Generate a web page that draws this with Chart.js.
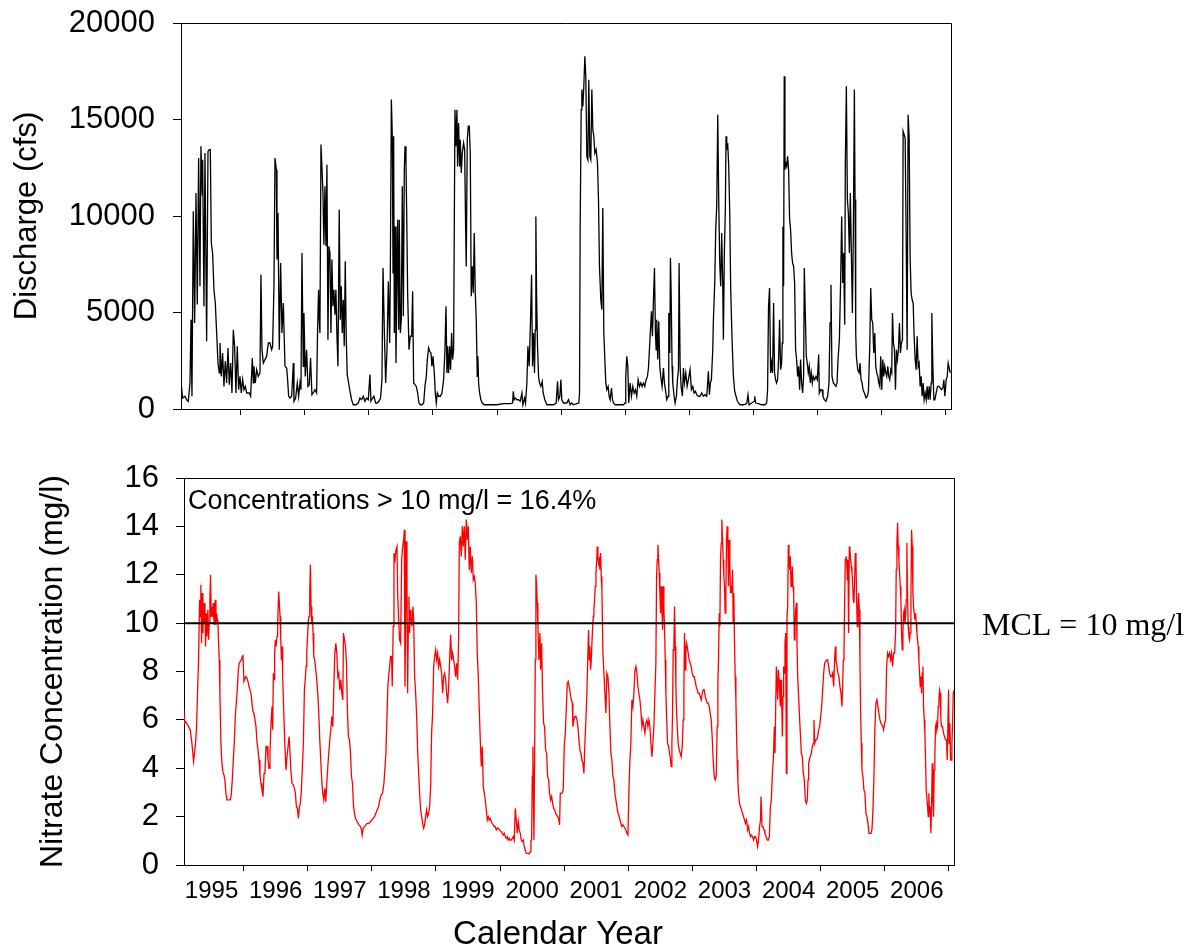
<!DOCTYPE html>
<html>
<head>
<meta charset="utf-8">
<title>Discharge and Nitrate Concentration</title>
<script src="https://cdn.jsdelivr.net/npm/chart.js@4.4.1/dist/chart.umd.min.js"></script>
<style>
  html, body { margin: 0; padding: 0; background: #fff; }
  #wrap { position: relative; width: 1194px; height: 951px; }
  #qChart { position: absolute; left: 0; top: 0; }
  #nChart { position: absolute; left: 0; top: 440px; }
</style>
</head>
<body>
<div id="wrap">
  <canvas id="qChart" width="1194" height="440"></canvas>
  <canvas id="nChart" width="1194" height="511"></canvas>
</div>
<script>
// DATA
const X_MIN = 1995.07;
const X_MAX = 2007.08;
const yearLabels = ['1995', '1996', '1997', '1998', '1999', '2000', '2001', '2002', '2003', '2004', '2005', '2006'];
const dischargeTicks = [0, 5000, 10000, 15000, 20000];
const nitrateTicks = [0, 2, 4, 6, 8, 10, 12, 14, 16];
const MCL = 10;

// discharge, [decimal year, cfs]
const discharge = [
  [1995.070,1350],[1995.096,570],[1995.132,660],[1995.158,480],[1995.184,400],[1995.210,1350],[1995.226,4630],[1995.241,660],[1995.262,10240],[1995.283,4460],[1995.304,11190],[1995.324,5410],[1995.345,13000],[1995.366,6360],[1995.381,13610],[1995.402,11100],[1995.408,12920],[1995.428,5320],[1995.444,13260],[1995.470,3510],[1995.491,13350],[1995.511,13440],[1995.527,13440],[1995.543,8600],[1995.563,8080],[1995.584,6180],[1995.605,5490],[1995.626,3940],[1995.647,2380],[1995.667,1870],[1995.678,3420],[1995.699,1690],[1995.719,2900],[1995.740,1170],[1995.761,2470],[1995.782,1350],[1995.803,3160],[1995.823,1260],[1995.844,2380],[1995.865,830],[1995.886,4110],[1995.906,3250],[1995.927,830],[1995.948,3250],[1995.969,1000],[1995.990,1690],
  [1996.010,830],[1996.031,1520],[1996.052,1000],[1996.073,1170],[1996.094,830],[1996.135,830],[1996.156,660],[1996.182,2640],[1996.198,1350],[1996.208,2210],[1996.229,1350],[1996.250,2040],[1996.276,1690],[1996.302,1870],[1996.317,6960],[1996.333,3070],[1996.354,2380],[1996.380,2560],[1996.406,2730],[1996.432,3420],[1996.458,3420],[1996.484,3070],[1996.499,3250],[1996.520,6360],[1996.536,13000],[1996.557,12400],[1996.567,7740],[1996.583,10160],[1996.603,3070],[1996.624,7560],[1996.645,3940],[1996.666,5490],[1996.692,2210],[1996.718,2120],[1996.733,1520],[1996.749,660],[1996.770,570],[1996.796,660],[1996.822,2380],[1996.832,400],[1996.858,570],[1996.884,1350],[1996.905,660],[1996.926,1350],[1996.941,1000],[1996.957,8080],[1996.977,2210],[1996.988,4970],
  [1997.008,1690],[1997.029,3070],[1997.050,1170],[1997.071,1260],[1997.091,2640],[1997.112,740],[1997.133,830],[1997.159,1000],[1997.185,830],[1997.201,4200],[1997.216,6180],[1997.227,4630],[1997.237,3940],[1997.253,13700],[1997.268,12570],[1997.284,11190],[1997.299,8510],[1997.315,11540],[1997.331,8430],[1997.346,12660],[1997.362,3590],[1997.377,8430],[1997.393,8080],[1997.409,3940],[1997.424,7740],[1997.440,5320],[1997.455,6180],[1997.471,4890],[1997.486,6180],[1997.502,3850],[1997.518,2210],[1997.538,10330],[1997.554,4630],[1997.570,6360],[1997.585,3940],[1997.601,5660],[1997.616,3250],[1997.632,7650],[1997.648,3590],[1997.663,1780],[1997.684,1350],[1997.705,920],[1997.731,480],[1997.757,220],[1997.798,220],[1997.835,310],[1997.861,570],[1997.887,480],[1997.913,660],[1997.939,400],[1997.965,570],[1997.991,480],
  [1998.017,1780],[1998.032,400],[1998.058,570],[1998.079,660],[1998.105,310],[1998.131,310],[1998.157,400],[1998.183,570],[1998.204,1520],[1998.221,7300],[1998.242,3940],[1998.262,1350],[1998.283,3070],[1998.304,6610],[1998.325,3420],[1998.335,7050],[1998.351,16030],[1998.366,14130],[1998.377,7050],[1998.387,14130],[1998.397,3940],[1998.413,9460],[1998.423,2380],[1998.434,5660],[1998.449,9810],[1998.465,4110],[1998.475,9810],[1998.491,3940],[1998.506,4630],[1998.522,11540],[1998.538,4800],[1998.553,12400],[1998.564,13610],[1998.579,12750],[1998.590,10160],[1998.605,6010],[1998.626,3070],[1998.647,3770],[1998.668,3770],[1998.683,6100],[1998.699,1350],[1998.719,1260],[1998.740,1170],[1998.761,830],[1998.782,310],[1998.803,220],[1998.829,220],[1998.855,310],[1998.875,1170],[1998.896,1690],[1998.912,2560],[1998.932,3160],[1998.948,2990],[1998.969,2900],[1998.984,2210],
  [1999.000,2730],[1999.021,1870],[1999.036,830],[1999.052,310],[1999.068,830],[1999.088,660],[1999.114,660],[1999.140,830],[1999.166,1520],[1999.187,3070],[1999.203,5320],[1999.218,1870],[1999.229,3250],[1999.244,1870],[1999.260,3250],[1999.275,2040],[1999.291,3940],[1999.306,2560],[1999.322,3070],[1999.343,15510],[1999.358,13610],[1999.374,15510],[1999.384,12570],[1999.400,14820],[1999.416,12570],[1999.426,13950],[1999.442,12230],[1999.457,13260],[1999.478,13780],[1999.494,13440],[1999.509,9460],[1999.519,7390],[1999.535,13950],[1999.551,14650],[1999.566,14650],[1999.582,13260],[1999.597,5840],[1999.613,7390],[1999.629,6010],[1999.644,9120],[1999.660,6010],[1999.675,4630],[1999.691,1690],[1999.701,2730],[1999.712,1350],[1999.727,830],[1999.748,480],[1999.769,310],[1999.800,220],[1999.894,220],[1999.997,220],
  [2000.101,280],[2000.205,280],[2000.242,310],[2000.252,920],[2000.268,480],[2000.283,570],[2000.309,480],[2000.335,480],[2000.361,400],[2000.387,830],[2000.403,220],[2000.429,570],[2000.444,310],[2000.465,1350],[2000.481,3250],[2000.501,2210],[2000.522,4630],[2000.538,6960],[2000.553,2210],[2000.569,3940],[2000.584,1870],[2000.595,4110],[2000.605,9980],[2000.616,6010],[2000.631,3250],[2000.647,1690],[2000.662,1350],[2000.683,1170],[2000.704,1430],[2000.719,830],[2000.745,480],[2000.777,220],[2000.829,220],[2000.881,220],[2000.922,310],[2000.943,1430],[2000.958,480],[2000.979,660],[2000.995,1520],
  [2001.010,480],[2001.036,310],[2001.062,310],[2001.088,310],[2001.114,480],[2001.140,220],[2001.166,310],[2001.192,220],[2001.244,280],[2001.275,310],[2001.286,830],[2001.296,9460],[2001.312,15510],[2001.322,16550],[2001.338,15680],[2001.353,16720],[2001.369,18270],[2001.384,17240],[2001.400,13090],[2001.416,12920],[2001.431,17060],[2001.447,13090],[2001.462,12920],[2001.478,16550],[2001.494,14470],[2001.509,14130],[2001.525,13260],[2001.545,13440],[2001.566,12750],[2001.582,10850],[2001.597,7390],[2001.618,5660],[2001.634,5150],[2001.649,10410],[2001.665,3940],[2001.681,2560],[2001.696,1350],[2001.712,1000],[2001.732,1170],[2001.748,660],[2001.764,480],[2001.784,1090],[2001.800,480],[2001.816,310],[2001.842,220],[2001.894,220],[2001.971,220],[2001.997,310],
  [2002.007,1690],[2002.023,2730],[2002.039,2210],[2002.054,310],[2002.075,1350],[2002.096,660],[2002.117,1170],[2002.138,830],[2002.158,1000],[2002.179,660],[2002.200,1520],[2002.221,1170],[2002.242,1350],[2002.262,1170],[2002.283,1350],[2002.304,1170],[2002.325,1520],[2002.345,1690],[2002.361,2120],[2002.387,3770],[2002.408,5060],[2002.423,3770],[2002.439,5660],[2002.455,7300],[2002.470,3940],[2002.481,3070],[2002.491,4630],[2002.506,2560],[2002.522,4540],[2002.538,2210],[2002.553,1690],[2002.574,1170],[2002.595,2120],[2002.610,1350],[2002.626,1000],[2002.647,480],[2002.668,660],[2002.678,4970],[2002.694,2900],[2002.704,7820],[2002.714,6180],[2002.730,2210],[2002.740,1350],[2002.761,660],[2002.777,310],[2002.797,660],[2002.813,1520],[2002.829,2040],[2002.839,7560],[2002.855,2210],[2002.870,1170],[2002.891,660],[2002.906,2120],[2002.922,1350],[2002.943,1870],[2002.964,1170],[2002.984,1520],
  [2003.010,2040],[2003.031,1000],[2003.052,1170],[2003.073,830],[2003.094,920],[2003.114,740],[2003.140,660],[2003.166,660],[2003.192,830],[2003.218,660],[2003.244,740],[2003.270,660],[2003.296,1950],[2003.312,740],[2003.327,1350],[2003.343,1520],[2003.364,3070],[2003.374,4630],[2003.395,6530],[2003.410,9290],[2003.426,10500],[2003.442,15250],[2003.457,10850],[2003.473,7560],[2003.488,6360],[2003.504,9120],[2003.519,6530],[2003.530,3590],[2003.545,8080],[2003.561,10500],[2003.571,14130],[2003.582,13440],[2003.597,13780],[2003.613,12570],[2003.629,10160],[2003.644,6180],[2003.665,3590],[2003.686,1690],[2003.706,920],[2003.727,660],[2003.748,400],[2003.790,220],[2003.842,220],[2003.894,280],[2003.914,740],[2003.930,220],[2003.971,310],
  [2004.008,400],[2004.018,660],[2004.034,310],[2004.075,280],[2004.127,220],[2004.179,220],[2004.205,310],[2004.219,1000],[2004.234,5320],[2004.250,6270],[2004.266,1870],[2004.281,2380],[2004.297,1870],[2004.313,5490],[2004.328,1870],[2004.344,1520],[2004.359,1350],[2004.375,1520],[2004.391,2560],[2004.406,4630],[2004.422,2040],[2004.438,2380],[2004.448,3420],[2004.458,9460],[2004.469,6360],[2004.479,17240],[2004.490,12400],[2004.500,12750],[2004.516,12570],[2004.531,13090],[2004.547,12400],[2004.563,9810],[2004.578,9290],[2004.594,8080],[2004.609,7560],[2004.625,7390],[2004.641,6530],[2004.656,3070],[2004.672,2560],[2004.688,1690],[2004.703,2210],[2004.719,1000],[2004.734,2560],[2004.750,1350],[2004.766,830],[2004.781,1690],[2004.792,7300],[2004.807,4970],[2004.823,2730],[2004.839,2380],[2004.854,1870],[2004.870,2210],[2004.885,1350],[2004.901,1870],[2004.917,1350],[2004.932,1690],[2004.953,1520],[2004.974,1690],[2004.995,1520],
  [2005.016,2820],[2005.026,830],[2005.047,1000],[2005.068,1000],[2005.083,660],[2005.104,480],[2005.130,400],[2005.156,660],[2005.177,1350],[2005.193,4460],[2005.208,6440],[2005.224,1690],[2005.245,1350],[2005.266,1260],[2005.286,1170],[2005.302,1350],[2005.318,2560],[2005.339,3590],[2005.359,6700],[2005.375,9980],[2005.391,6530],[2005.406,8080],[2005.422,4370],[2005.432,12750],[2005.448,16720],[2005.464,10850],[2005.479,10160],[2005.495,8080],[2005.510,11190],[2005.526,8080],[2005.542,4970],[2005.557,9120],[2005.573,16550],[2005.583,10850],[2005.594,3940],[2005.604,2730],[2005.625,2040],[2005.646,1870],[2005.661,2380],[2005.677,1520],[2005.693,1350],[2005.708,1000],[2005.729,830],[2005.755,570],[2005.776,660],[2005.792,920],[2005.813,3250],[2005.828,6270],[2005.844,4630],[2005.859,4460],[2005.875,2900],[2005.891,3940],[2005.906,2210],[2005.922,1870],[2005.938,1690],[2005.953,1350],[2005.969,1170],[2005.984,2730],
  [2006.000,1000],[2006.016,2560],[2006.031,1690],[2006.047,2210],[2006.063,1870],[2006.078,1690],[2006.094,2210],[2006.109,1690],[2006.125,1520],[2006.141,2040],[2006.156,1870],[2006.167,4970],[2006.182,3420],[2006.198,3070],[2006.214,1000],[2006.229,3070],[2006.245,2560],[2006.260,3070],[2006.276,4460],[2006.292,2900],[2006.307,3420],[2006.323,3590],[2006.333,14390],[2006.349,14210],[2006.365,14040],[2006.380,9120],[2006.396,3070],[2006.411,15250],[2006.427,14130],[2006.443,7740],[2006.458,6010],[2006.474,5660],[2006.490,5490],[2006.505,3770],[2006.521,2560],[2006.536,2040],[2006.552,3770],[2006.568,2210],[2006.583,2380],[2006.599,1170],[2006.615,1690],[2006.630,660],[2006.646,1350],[2006.661,480],[2006.677,830],[2006.693,480],[2006.708,1170],[2006.724,480],[2006.740,1170],[2006.755,480],[2006.771,1350],[2006.781,4970],[2006.797,2210],[2006.813,480],[2006.828,480],[2006.849,830],[2006.870,1170],[2006.891,1170],[2006.911,1090],[2006.932,1000],[2006.953,1090],[2006.969,1520],[2006.984,660],
  [2007.005,1520],[2007.021,1690],[2007.036,2380],[2007.068,1870]
];

// nitrate, [decimal year, mg/l]
const nitrate = [
  [1995.068,6.41],[1995.078,5.86],[1995.094,5.93],[1995.115,5.86],[1995.141,5.72],[1995.167,5.59],[1995.188,5.17],[1995.203,4.76],[1995.219,4.28],[1995.234,4.62],[1995.250,5.03],[1995.266,5.72],[1995.281,7.10],[1995.297,8.48],[1995.313,10.97],[1995.323,10.28],[1995.333,11.59],[1995.344,9.17],[1995.354,11.24],[1995.365,9.59],[1995.375,10.83],[1995.385,10.00],[1995.396,10.83],[1995.406,9.03],[1995.417,10.41],[1995.427,9.45],[1995.443,10.55],[1995.453,9.31],[1995.464,10.00],[1995.474,10.97],[1995.484,12.00],[1995.495,10.28],[1995.505,10.69],[1995.516,10.28],[1995.526,10.83],[1995.536,10.14],[1995.547,9.93],[1995.557,10.97],[1995.568,9.93],[1995.578,10.41],[1995.589,10.14],[1995.599,10.00],[1995.609,9.17],[1995.620,8.48],[1995.630,7.10],[1995.646,5.03],[1995.661,4.21],[1995.677,3.86],[1995.693,3.72],[1995.708,3.52],[1995.724,2.97],[1995.740,2.69],[1995.766,2.69],[1995.792,2.69],[1995.807,2.90],[1995.823,3.52],[1995.839,4.34],[1995.854,5.03],[1995.870,6.14],[1995.885,6.69],[1995.901,7.24],[1995.917,8.07],[1995.932,8.34],[1995.948,8.41],[1995.964,8.48],[1995.979,8.62],[1995.990,8.69],
  [1996.005,7.59],[1996.021,7.72],[1996.036,7.79],[1996.052,7.72],[1996.068,7.59],[1996.083,7.38],[1996.099,7.24],[1996.115,7.10],[1996.130,6.69],[1996.146,6.34],[1996.161,6.28],[1996.177,6.00],[1996.193,5.72],[1996.208,5.10],[1996.224,4.76],[1996.240,4.34],[1996.255,3.72],[1996.271,3.38],[1996.286,3.10],[1996.302,2.83],[1996.318,3.79],[1996.333,3.86],[1996.349,4.90],[1996.365,4.90],[1996.380,4.34],[1996.396,4.00],[1996.411,4.62],[1996.427,5.86],[1996.443,6.55],[1996.453,5.59],[1996.464,7.93],[1996.474,7.66],[1996.484,8.76],[1996.495,9.31],[1996.505,9.03],[1996.521,9.45],[1996.531,10.00],[1996.547,11.31],[1996.557,10.83],[1996.568,10.28],[1996.578,9.45],[1996.589,8.48],[1996.599,9.03],[1996.609,7.79],[1996.620,6.83],[1996.630,6.00],[1996.646,4.76],[1996.661,3.93],[1996.677,4.48],[1996.693,4.90],[1996.708,5.31],[1996.724,4.62],[1996.740,3.79],[1996.755,3.38],[1996.776,3.31],[1996.792,3.17],[1996.807,2.97],[1996.823,2.41],[1996.839,2.34],[1996.854,1.93],[1996.870,2.41],[1996.885,2.55],[1996.901,3.10],[1996.917,4.07],[1996.932,5.03],[1996.948,7.24],[1996.964,7.79],[1996.974,8.21],[1996.984,8.76],
  [1997.000,9.59],[1997.010,10.14],[1997.021,10.28],[1997.031,11.24],[1997.042,12.41],[1997.052,10.69],[1997.063,10.00],[1997.073,10.28],[1997.083,9.59],[1997.094,8.62],[1997.109,8.48],[1997.125,8.07],[1997.141,7.66],[1997.156,7.10],[1997.172,6.28],[1997.188,5.17],[1997.203,4.34],[1997.219,3.52],[1997.234,2.97],[1997.250,2.69],[1997.266,3.17],[1997.281,2.62],[1997.297,3.38],[1997.313,4.07],[1997.328,4.62],[1997.344,5.17],[1997.359,5.59],[1997.375,6.14],[1997.391,5.72],[1997.406,7.24],[1997.422,8.76],[1997.438,9.17],[1997.453,8.76],[1997.469,7.79],[1997.484,7.93],[1997.500,7.24],[1997.516,7.66],[1997.531,7.10],[1997.547,6.83],[1997.557,9.59],[1997.573,9.31],[1997.589,9.03],[1997.604,8.34],[1997.620,6.28],[1997.635,5.31],[1997.651,5.17],[1997.667,4.62],[1997.682,3.66],[1997.698,3.38],[1997.714,2.41],[1997.729,2.14],[1997.745,1.93],[1997.771,1.79],[1997.797,1.66],[1997.823,1.59],[1997.839,1.45],[1997.849,1.24],[1997.865,1.52],[1997.885,1.59],[1997.906,1.66],[1997.927,1.72],[1997.953,1.72],[1997.979,1.79],
  [1998.000,1.86],[1998.021,1.93],[1998.042,2.00],[1998.063,2.14],[1998.083,2.28],[1998.104,2.41],[1998.125,2.69],[1998.146,2.90],[1998.167,2.97],[1998.188,3.38],[1998.203,3.93],[1998.219,4.62],[1998.234,6.00],[1998.250,7.38],[1998.266,7.93],[1998.281,8.34],[1998.292,8.62],[1998.307,8.62],[1998.318,7.38],[1998.333,9.86],[1998.345,12.90],[1998.361,12.62],[1998.376,13.03],[1998.392,13.17],[1998.402,11.24],[1998.418,10.14],[1998.433,9.31],[1998.449,9.17],[1998.465,12.62],[1998.480,13.17],[1998.496,13.45],[1998.506,13.86],[1998.517,7.38],[1998.527,9.86],[1998.537,13.38],[1998.548,11.52],[1998.558,7.10],[1998.569,9.86],[1998.579,11.10],[1998.589,9.59],[1998.600,10.55],[1998.610,10.28],[1998.626,9.86],[1998.641,10.69],[1998.652,10.14],[1998.667,7.79],[1998.683,7.10],[1998.699,6.14],[1998.714,4.76],[1998.730,3.79],[1998.745,2.97],[1998.761,2.28],[1998.777,2.00],[1998.792,1.72],[1998.808,1.52],[1998.823,1.66],[1998.839,2.00],[1998.854,2.28],[1998.870,2.00],[1998.886,2.14],[1998.901,2.41],[1998.917,3.24],[1998.932,5.45],[1998.948,6.28],[1998.964,8.21],[1998.979,8.62],[1998.995,8.90],
  [1999.010,8.48],[1999.026,8.76],[1999.042,8.21],[1999.057,8.48],[1999.073,8.21],[1999.088,7.93],[1999.104,7.10],[1999.120,7.79],[1999.135,7.93],[1999.151,7.66],[1999.166,7.10],[1999.182,6.69],[1999.198,7.38],[1999.213,8.48],[1999.229,9.52],[1999.244,8.48],[1999.260,8.76],[1999.275,8.48],[1999.291,8.21],[1999.307,7.79],[1999.322,8.34],[1999.338,7.66],[1999.353,9.31],[1999.364,13.31],[1999.379,13.59],[1999.395,12.76],[1999.411,14.00],[1999.426,13.17],[1999.442,14.00],[1999.457,12.62],[1999.473,14.28],[1999.489,13.45],[1999.504,14.00],[1999.520,12.21],[1999.535,13.17],[1999.551,12.07],[1999.567,12.76],[1999.582,11.79],[1999.598,11.93],[1999.613,11.66],[1999.629,10.83],[1999.644,8.76],[1999.660,7.79],[1999.676,6.41],[1999.691,5.17],[1999.707,4.07],[1999.722,4.90],[1999.738,3.24],[1999.754,2.97],[1999.769,2.69],[1999.785,2.28],[1999.800,1.86],[1999.816,2.00],[1999.832,1.86],[1999.847,1.93],[1999.863,1.79],[1999.878,1.72],[1999.894,1.66],[1999.910,1.59],[1999.925,1.59],[1999.941,1.45],[1999.956,1.52],[1999.972,1.52],[1999.988,1.45],
  [2000.003,1.42],[2000.019,1.38],[2000.034,1.31],[2000.050,1.24],[2000.065,1.31],[2000.081,1.17],[2000.097,1.10],[2000.112,1.17],[2000.128,1.03],[2000.143,1.10],[2000.159,1.03],[2000.175,1.03],[2000.190,1.10],[2000.206,1.17],[2000.221,1.03],[2000.237,2.34],[2000.253,1.86],[2000.268,1.31],[2000.284,1.79],[2000.299,1.45],[2000.315,1.31],[2000.331,1.03],[2000.346,0.97],[2000.362,1.03],[2000.377,0.76],[2000.393,0.62],[2000.408,0.48],[2000.424,0.48],[2000.440,0.48],[2000.455,0.46],[2000.471,0.55],[2000.481,1.03],[2000.492,1.03],[2000.502,3.66],[2000.512,4.90],[2000.528,1.03],[2000.538,4.34],[2000.549,8.48],[2000.559,12.00],[2000.570,11.52],[2000.580,10.83],[2000.590,9.86],[2000.606,8.48],[2000.622,9.59],[2000.632,8.07],[2000.648,9.17],[2000.663,7.10],[2000.679,5.86],[2000.694,5.72],[2000.710,4.76],[2000.726,4.62],[2000.741,3.66],[2000.757,3.52],[2000.772,2.97],[2000.788,2.69],[2000.804,2.83],[2000.819,2.55],[2000.835,2.34],[2000.850,2.28],[2000.866,2.14],[2000.881,2.07],[2000.897,2.00],[2000.913,1.93],[2000.928,1.66],[2000.939,2.97],[2000.954,2.97],[2000.970,2.97],[2000.985,3.10],
  [2001.001,4.90],[2001.017,5.45],[2001.032,6.41],[2001.048,7.52],[2001.063,7.59],[2001.079,7.38],[2001.095,7.10],[2001.110,6.83],[2001.126,6.69],[2001.136,5.72],[2001.152,6.00],[2001.167,6.14],[2001.183,6.14],[2001.199,6.00],[2001.214,5.72],[2001.230,5.17],[2001.245,4.76],[2001.261,4.62],[2001.276,4.34],[2001.292,4.21],[2001.308,3.79],[2001.323,5.03],[2001.339,6.00],[2001.354,7.10],[2001.370,8.76],[2001.380,9.72],[2001.391,8.48],[2001.401,9.03],[2001.412,8.07],[2001.422,8.48],[2001.437,9.45],[2001.453,10.28],[2001.463,10.55],[2001.474,10.97],[2001.484,11.52],[2001.495,12.07],[2001.505,12.48],[2001.516,13.17],[2001.526,12.76],[2001.536,12.48],[2001.547,12.62],[2001.557,12.21],[2001.568,12.90],[2001.578,11.93],[2001.588,11.38],[2001.604,8.76],[2001.620,7.93],[2001.635,7.10],[2001.651,6.28],[2001.666,7.93],[2001.682,7.79],[2001.698,7.10],[2001.713,5.72],[2001.729,4.62],[2001.744,4.34],[2001.760,3.66],[2001.775,3.52],[2001.791,2.97],[2001.807,2.69],[2001.822,2.41],[2001.838,2.14],[2001.853,2.07],[2001.869,1.86],[2001.885,1.72],[2001.900,1.59],[2001.916,1.66],[2001.931,1.59],[2001.947,1.52],[2001.962,1.45],[2001.978,1.31],[2001.994,1.24],
  [2002.009,2.97],[2002.025,4.34],[2002.040,5.03],[2002.056,6.83],[2002.072,6.55],[2002.087,7.10],[2002.103,8.07],[2002.118,8.21],[2002.134,7.93],[2002.150,7.38],[2002.165,7.10],[2002.181,6.83],[2002.196,6.41],[2002.212,5.72],[2002.228,6.00],[2002.243,5.72],[2002.259,5.45],[2002.274,5.86],[2002.290,6.00],[2002.306,5.72],[2002.321,6.00],[2002.337,5.72],[2002.352,5.03],[2002.368,4.48],[2002.383,5.03],[2002.399,5.72],[2002.415,7.10],[2002.430,8.34],[2002.441,11.93],[2002.451,12.62],[2002.461,13.24],[2002.472,12.62],[2002.482,12.07],[2002.493,11.24],[2002.503,10.41],[2002.513,11.52],[2002.524,10.69],[2002.534,9.72],[2002.545,11.52],[2002.555,10.55],[2002.565,9.86],[2002.576,8.48],[2002.586,7.10],[2002.597,6.14],[2002.612,5.03],[2002.628,4.90],[2002.643,4.62],[2002.659,4.34],[2002.669,4.07],[2002.680,5.03],[2002.690,6.28],[2002.700,8.90],[2002.711,9.03],[2002.721,10.69],[2002.732,9.03],[2002.742,7.38],[2002.752,6.41],[2002.763,5.72],[2002.778,5.03],[2002.794,4.76],[2002.810,4.62],[2002.825,4.48],[2002.841,4.90],[2002.856,6.00],[2002.867,7.38],[2002.877,9.59],[2002.888,8.07],[2002.898,8.90],[2002.908,9.17],[2002.919,9.03],[2002.934,8.76],[2002.950,8.48],[2002.966,8.34],[2002.981,8.21],[2002.997,7.93],
  [2003.012,7.79],[2003.028,7.79],[2003.043,7.59],[2003.059,7.38],[2003.075,7.24],[2003.090,7.10],[2003.106,7.10],[2003.121,6.97],[2003.137,6.83],[2003.153,7.10],[2003.168,7.24],[2003.184,7.24],[2003.199,6.97],[2003.215,6.83],[2003.230,6.69],[2003.246,6.69],[2003.262,6.55],[2003.277,6.28],[2003.293,6.00],[2003.308,5.31],[2003.324,4.34],[2003.340,3.66],[2003.355,3.52],[2003.371,3.66],[2003.386,5.72],[2003.397,7.52],[2003.407,8.48],[2003.418,10.41],[2003.428,9.86],[2003.438,12.62],[2003.449,13.31],[2003.459,14.28],[2003.470,13.45],[2003.480,12.62],[2003.490,11.93],[2003.501,11.52],[2003.511,10.41],[2003.522,11.24],[2003.532,13.45],[2003.542,14.00],[2003.553,13.31],[2003.563,11.52],[2003.574,13.45],[2003.584,12.34],[2003.594,11.24],[2003.605,11.52],[2003.615,11.24],[2003.626,12.21],[2003.636,10.00],[2003.646,11.24],[2003.657,9.03],[2003.667,7.79],[2003.678,6.83],[2003.688,5.45],[2003.698,4.34],[2003.709,3.52],[2003.719,2.97],[2003.735,2.55],[2003.750,2.41],[2003.766,2.28],[2003.782,2.14],[2003.797,2.00],[2003.813,1.86],[2003.828,1.72],[2003.844,1.86],[2003.860,1.45],[2003.875,1.59],[2003.891,1.31],[2003.906,1.17],[2003.922,1.24],[2003.937,1.17],[2003.953,1.03],[2003.969,1.17],[2003.984,1.17],
  [2004.000,1.03],[2004.016,0.76],[2004.031,1.03],[2004.047,1.59],[2004.062,1.86],[2004.070,2.83],[2004.086,1.59],[2004.101,1.59],[2004.117,1.45],[2004.132,1.31],[2004.148,1.17],[2004.169,1.03],[2004.184,1.03],[2004.200,1.17],[2004.216,2.41],[2004.231,2.69],[2004.247,3.79],[2004.262,4.34],[2004.278,5.72],[2004.288,4.62],[2004.299,6.55],[2004.309,8.21],[2004.319,8.21],[2004.330,6.83],[2004.340,8.07],[2004.351,7.66],[2004.361,7.10],[2004.371,6.55],[2004.382,7.66],[2004.392,6.83],[2004.403,5.31],[2004.413,6.97],[2004.423,8.21],[2004.434,7.93],[2004.444,9.17],[2004.455,9.59],[2004.465,3.79],[2004.475,10.28],[2004.486,10.69],[2004.496,13.24],[2004.506,12.62],[2004.517,12.21],[2004.527,12.76],[2004.538,11.52],[2004.548,11.79],[2004.558,12.34],[2004.569,11.52],[2004.579,11.24],[2004.590,9.31],[2004.600,9.86],[2004.610,10.55],[2004.621,10.83],[2004.631,9.17],[2004.642,7.79],[2004.652,7.24],[2004.668,6.28],[2004.683,5.45],[2004.699,4.62],[2004.714,4.48],[2004.730,3.79],[2004.745,3.52],[2004.761,2.69],[2004.777,2.55],[2004.792,2.69],[2004.803,3.52],[2004.813,4.21],[2004.823,4.34],[2004.839,4.48],[2004.855,4.62],[2004.870,4.90],[2004.886,5.03],[2004.896,6.00],[2004.906,5.03],[2004.922,5.17],[2004.938,5.17],[2004.953,5.31],[2004.969,5.59],[2004.984,5.72],
  [2005.000,6.14],[2005.016,6.55],[2005.031,7.24],[2005.047,7.93],[2005.062,8.34],[2005.078,8.41],[2005.094,8.48],[2005.109,8.48],[2005.125,8.21],[2005.140,7.93],[2005.156,7.79],[2005.171,7.79],[2005.187,7.93],[2005.203,7.38],[2005.218,8.48],[2005.229,9.03],[2005.239,8.48],[2005.255,8.21],[2005.270,7.93],[2005.286,7.79],[2005.301,7.38],[2005.317,7.10],[2005.332,6.55],[2005.343,7.38],[2005.353,8.48],[2005.364,8.76],[2005.374,10.83],[2005.384,12.62],[2005.395,12.76],[2005.405,12.62],[2005.416,11.79],[2005.426,12.62],[2005.436,9.59],[2005.447,13.17],[2005.457,13.03],[2005.468,12.62],[2005.478,12.34],[2005.488,12.07],[2005.499,11.66],[2005.509,10.97],[2005.519,10.83],[2005.530,11.79],[2005.540,12.90],[2005.551,12.62],[2005.561,10.97],[2005.571,9.86],[2005.582,10.55],[2005.592,11.24],[2005.603,10.55],[2005.613,8.48],[2005.623,6.41],[2005.634,5.03],[2005.644,3.93],[2005.660,3.66],[2005.675,3.10],[2005.691,2.97],[2005.706,2.14],[2005.722,2.00],[2005.738,1.72],[2005.753,1.31],[2005.769,1.31],[2005.784,1.31],[2005.800,1.45],[2005.816,2.28],[2005.831,3.66],[2005.847,5.72],[2005.862,6.69],[2005.878,6.83],[2005.894,6.55],[2005.909,6.28],[2005.925,6.00],[2005.940,5.86],[2005.956,5.79],[2005.971,5.72],[2005.982,5.59],[2005.997,5.86],
  [2006.013,6.00],[2006.029,8.21],[2006.044,8.76],[2006.060,8.62],[2006.075,8.76],[2006.091,8.48],[2006.106,8.76],[2006.122,8.21],[2006.138,8.76],[2006.153,8.76],[2006.169,9.59],[2006.179,12.21],[2006.190,13.31],[2006.200,14.14],[2006.210,13.17],[2006.221,12.62],[2006.231,12.07],[2006.242,11.52],[2006.252,10.97],[2006.262,9.59],[2006.273,8.90],[2006.283,9.59],[2006.294,10.41],[2006.304,10.55],[2006.314,10.00],[2006.325,10.28],[2006.335,10.97],[2006.345,13.31],[2006.356,10.97],[2006.366,9.86],[2006.377,9.45],[2006.387,9.31],[2006.397,9.59],[2006.408,10.97],[2006.418,13.86],[2006.429,13.17],[2006.439,11.24],[2006.449,10.69],[2006.460,10.41],[2006.470,10.14],[2006.481,10.41],[2006.491,10.00],[2006.501,9.59],[2006.512,9.31],[2006.522,9.03],[2006.532,8.48],[2006.543,7.93],[2006.553,7.38],[2006.564,7.79],[2006.574,7.10],[2006.584,7.93],[2006.595,8.21],[2006.605,6.55],[2006.616,6.00],[2006.626,5.45],[2006.636,4.34],[2006.647,3.10],[2006.657,3.10],[2006.668,2.41],[2006.678,2.00],[2006.688,2.97],[2006.699,2.14],[2006.709,2.41],[2006.719,1.31],[2006.730,2.41],[2006.740,4.21],[2006.751,2.69],[2006.761,2.00],[2006.771,3.93],[2006.782,4.62],[2006.792,5.72],[2006.803,5.86],[2006.813,5.59],[2006.823,5.72],[2006.834,6.55],[2006.844,6.83],[2006.855,7.24],[2006.865,7.10],[2006.875,6.00],[2006.886,5.72],[2006.901,5.72],[2006.917,5.45],[2006.932,5.31],[2006.948,5.17],[2006.964,5.17],[2006.974,4.34],[2006.984,4.34],[2006.995,7.24],
  [2007.005,5.03],[2007.016,5.86],[2007.026,4.34],[2007.036,4.34],[2007.047,5.03],[2007.057,5.72],[2007.068,7.10],[2007.078,7.24]
];

// STYLE
const FONT = "'Liberation Sans', Arial, sans-serif";
Chart.defaults.font.family = FONT;
Chart.defaults.color = '#000';

function toPoints(rows) {
  return rows.map(r => ({ x: r[0], y: r[1] }));
}

// tick marks on year boundaries, labels in the middle of each year
function yearTicks(withLabels) {
  const t = [];
  yearLabels.forEach(l => {
    const y = Number(l);
    if (y + 1 <= X_MAX) t.push({ value: y + 1 });
    if (withLabels) t.push({ value: y + 0.5 });
  });
  return t.sort((a, b) => a.value - b.value);
}

function isBoundary(ctx) {
  return ctx.tick && Number.isInteger(ctx.tick.value);
}

// keep tick labels from pushing the plot box around
function noOverflow(s) {
  s.paddingTop = 0;
  s.paddingBottom = 0;
  s.paddingLeft = 0;
  s.paddingRight = 0;
}

// top and right edges of the box
const frame = {
  id: 'frame',
  afterDraw(chart) {
    const { ctx, chartArea: a } = chart;
    ctx.save();
    ctx.strokeStyle = '#000';
    ctx.lineWidth = 1;
    ctx.beginPath();
    ctx.moveTo(Math.round(a.left), Math.round(a.top) + 0.5);
    ctx.lineTo(Math.round(a.right) + 0.5, Math.round(a.top) + 0.5);
    ctx.lineTo(Math.round(a.right) + 0.5, Math.round(a.bottom));
    ctx.stroke();
    ctx.restore();
  }
};

const nitrateNotes = {
  id: 'nitrateNotes',
  afterDraw(chart) {
    const { ctx, chartArea, scales } = chart;
    ctx.save();
    ctx.fillStyle = '#000';
    ctx.textAlign = 'left';
    ctx.textBaseline = 'alphabetic';
    ctx.font = '27px ' + FONT;
    ctx.fillText('Concentrations > 10 mg/l = 16.4%', chartArea.left + 4, chartArea.top + 31);
    ctx.font = "32px 'Liberation Serif', 'Times New Roman', serif";
    ctx.fillText('MCL = 10 mg/l', 982, scales.y.getPixelForValue(MCL) + 12);
    ctx.textAlign = 'center';
    ctx.textBaseline = 'middle';
    ctx.font = '33px ' + FONT;
    ctx.fillText('Calendar Year', 558, chart.height - 16);
    ctx.restore();
  }
};

function xScale(withLabels, height) {
  return {
    type: 'linear',
    min: X_MIN,
    max: X_MAX,
    afterBuildTicks: s => { s.ticks = yearTicks(withLabels); },
    afterFit: s => { s.height = height; noOverflow(s); },
    ticks: {
      display: withLabels,
      autoSkip: false,
      maxRotation: 0,
      padding: 6,
      font: { size: 24 },
      callback: v => Number.isInteger(v) ? '' : String(Math.floor(v))
    },
    grid: {
      drawOnChartArea: false,
      drawTicks: true,
      tickLength: 6,
      color: c => isBoundary(c) ? '#000' : 'rgba(0,0,0,0)',
      tickColor: c => isBoundary(c) ? '#000' : 'rgba(0,0,0,0)'
    },
    border: { display: true, color: '#000', width: 1 }
  };
}

function yScale(values, title, width, labelPad, titlePad, titleSize) {
  return {
    min: values[0],
    max: values[values.length - 1],
    afterBuildTicks: s => { s.ticks = values.map(v => ({ value: v })); },
    afterFit: s => { s.width = width; noOverflow(s); },
    ticks: { padding: labelPad, font: { size: 31 }, callback: v => String(v) },
    grid: { drawOnChartArea: false, drawTicks: true, tickLength: 8, color: '#000', tickColor: '#000' },
    border: { display: true, color: '#000', width: 1 },
    title: {
      display: true,
      text: title,
      font: { size: titleSize },
      padding: { top: titlePad, bottom: 0 }
    }
  };
}

const baseOptions = {
  responsive: false,
  animation: false,
  devicePixelRatio: 1,
  events: [],
  plugins: { legend: { display: false }, tooltip: { enabled: false } },
  elements: { point: { radius: 0 }, line: { tension: 0 } }
};

new Chart(document.getElementById('qChart'), {
  type: 'line',
  data: {
    datasets: [{
      data: toPoints(discharge),
      borderColor: '#000',
      borderWidth: 1.3,
      fill: false
    }]
  },
  options: Object.assign({}, baseOptions, {
    layout: { padding: { left: 0, right: 243, top: 23, bottom: 0 } },
    scales: {
      x: xScale(false, 31),
      y: yScale(dischargeTicks, 'Discharge (cfs)', 181, 18, 9, 31)
    }
  }),
  plugins: [frame]
});

new Chart(document.getElementById('nChart'), {
  type: 'line',
  data: {
    datasets: [
      {
        data: [{ x: X_MIN, y: MCL }, { x: X_MAX, y: MCL }],
        borderColor: '#000',
        borderWidth: 2,
        fill: false
      },
      {
        data: toPoints(nitrate),
        borderColor: '#ff0000',
        borderWidth: 1.3,
        fill: false
      }
    ]
  },
  options: Object.assign({}, baseOptions, {
    layout: { padding: { left: 0, right: 240, top: 38, bottom: 0 } },
    scales: {
      x: xScale(true, 86),
      y: yScale(nitrateTicks, 'Nitrate Concentration (mg/l)', 184, 17, 34, 32)
    }
  }),
  plugins: [frame, nitrateNotes]
});
</script>
</body>
</html>
